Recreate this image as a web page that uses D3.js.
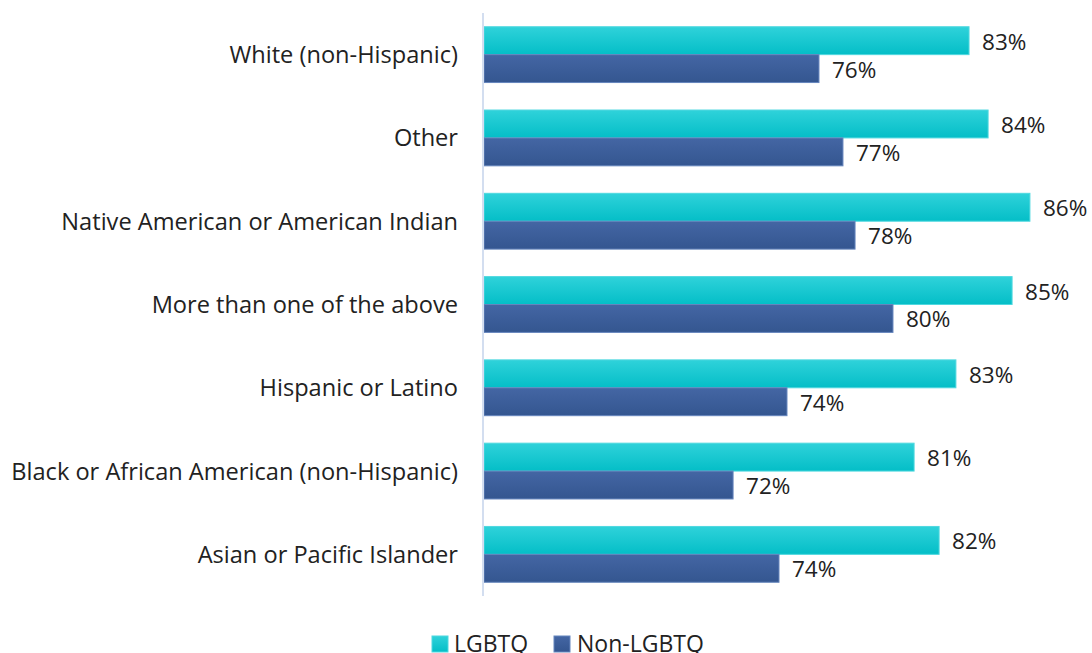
<!DOCTYPE html>
<html><head><meta charset="utf-8">
<script src="https://cdn.jsdelivr.net/npm/d3@7"></script>
<style>body{margin:0;background:#fff;} svg{display:block;font-family:"Open Sans","Noto Sans",sans-serif;}</style>
</head><body>
<svg id="c" width="1092" height="653"></svg>
<script>
const categories = ["White (non-Hispanic)","Other","Native American or American Indian","More than one of the above","Hispanic or Latino","Black or African American (non-Hispanic)","Asian or Pacific Islander"];
const seriesNames = ["LGBTQ","Non-LGBTQ"];
const lgbtq = [83.26,84.19,86.23,85.36,82.62,80.58,81.80];
const nonLgbtq = [75.94,77.11,77.70,79.55,74.38,71.75,73.99];
const borders = ["#4fd8df","#6585bd"];

const svg = d3.select("#c");
const defs = svg.append("defs");
[["g0","#2fd2da","#04bec7"],["g1","#4466a4","#345690"]].forEach(([id,a,b])=>{
  const g = defs.append("linearGradient").attr("id",id).attr("x1",0).attr("y1",0).attr("x2",0).attr("y2",1);
  g.append("stop").attr("offset","0%").attr("stop-color",a);
  g.append("stop").attr("offset","100%").attr("stop-color",b);
});

const x = d3.scaleLinear().domain([59.6, 89.6]).range([484, 1099]);
const y = d3.scaleBand().domain(categories).range([13, 596]).paddingInner(0.33).paddingOuter(0.165);
const ys = d3.scaleBand().domain(seriesNames).range([0, y.bandwidth()]);

const data = categories.map((c,i)=>({c, vals:[lgbtq[i], nonLgbtq[i]]}));

const grp = svg.selectAll("g.cat").data(data).join("g").attr("class","cat")
  .attr("transform", d=>`translate(0,${y(d.c)})`);

grp.selectAll("rect").data(d=>d.vals.map((v,j)=>({v,j}))).join("rect")
  .attr("x", x.range()[0])
  .attr("y", d=>ys(seriesNames[d.j]))
  .attr("width", d=>x(d.v)-x.range()[0])
  .attr("height", ys.bandwidth())
  .attr("fill", d=>`url(#g${d.j})`)
  .attr("stroke", d=>borders[d.j]).attr("stroke-width",1);

grp.selectAll("text.val").data(d=>d.vals.map((v,j)=>({v,j}))).join("text").attr("class","val")
  .attr("x", d=>x(d.v)+13)
  .attr("y", d=>ys(seriesNames[d.j])+ys.bandwidth()/2+3)
  .attr("dominant-baseline","middle")
  .attr("font-size",22.5).attr("fill","#222")
  .text(d=>Math.round(d.v)+"%");

// category axis
const yAxis = svg.append("g").attr("transform","translate(483,0)")
  .call(d3.axisLeft(y).tickSize(0).tickPadding(25));
yAxis.select(".domain").attr("stroke","#d3def0").attr("stroke-width",2).attr("d","M0,13V596");
yAxis.selectAll("text").attr("font-size",23.6).attr("fill","#222").attr("dy","0.36em").attr("font-family","'Open Sans','Noto Sans',sans-serif");

// legend
const legend = [{n:seriesNames[0],x:432,tx:454},{n:seriesNames[1],x:554,tx:577}];
const lg = svg.append("g");
legend.forEach((l,i)=>{
  lg.append("rect").attr("x",l.x).attr("y",636).attr("width",16).attr("height",16)
    .attr("fill",`url(#g${i})`).attr("stroke",borders[i]);
  lg.append("text").attr("x",l.tx).attr("y",652).attr("font-size",23).attr("fill","#222").text(l.n);
});
</script>
</body></html>
